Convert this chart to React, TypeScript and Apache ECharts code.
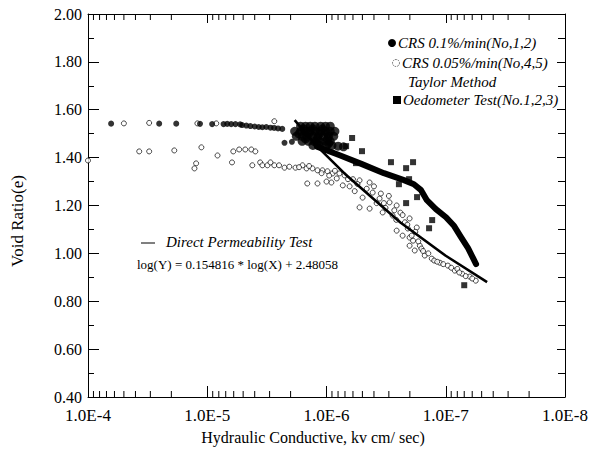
import React, { useEffect, useRef } from "react";
import * as echarts from "echarts";

// ---- axis ticks ----
const yMin = 0.4;
const yMax = 2.0;
const yInterval = 0.2;
const xMinK = 1e-8;
const xMaxK = 1e-4;
const minorMantissas = [2, 3, 4, 5, 6, 7, 8, 9];
const minorDecades = [-5, -6, -7, -8];

// ---- CRS 0.1%/min (No.1,2) : filled circles [k (cm/sec), e] ----
const crs01Points: [number, number][] = [
  [6.4e-5, 1.542], [2.53e-5, 1.542], [1.82e-5, 1.542], [1.15e-5, 1.541], [9.1e-6, 1.54],
  [7.3e-6, 1.54], [6.8e-6, 1.541], [6.3e-6, 1.54], [5.8e-6, 1.54], [5.3e-6, 1.539],
  [5.1e-6, 1.536], [4.7e-6, 1.534], [4.35e-6, 1.532], [4.0e-6, 1.53], [3.7e-6, 1.528],
  [3.45e-6, 1.527], [3.2e-6, 1.528], [2.95e-6, 1.525], [2.75e-6, 1.524], [2.55e-6, 1.522],
  [2.35e-6, 1.52], [2.25e-6, 1.462], [1.95e-6, 1.466],
];
const crs01Cluster: [number, number][] = [
  [1.65e-6, 1.531], [1.5e-6, 1.531], [1.37e-6, 1.531], [1.25e-6, 1.531], [1.12e-6, 1.531], [1.02e-6, 1.531], [9.3e-7, 1.531],
  [1.85e-6, 1.51], [1.65e-6, 1.51], [1.5e-6, 1.51], [1.37e-6, 1.51], [1.25e-6, 1.51], [1.12e-6, 1.51], [1.02e-6, 1.51], [9.3e-7, 1.51], [8.5e-7, 1.51],
  [1.79e-6, 1.489], [1.6e-6, 1.489], [1.45e-6, 1.489], [1.3e-6, 1.489], [1.18e-6, 1.489], [1.06e-6, 1.489], [9.6e-7, 1.489], [8.7e-7, 1.489],
  [1.6e-6, 1.468], [1.42e-6, 1.468], [1.27e-6, 1.468], [1.14e-6, 1.468], [1.02e-6, 1.468], [9.3e-7, 1.468],
  [1.3e-6, 1.451], [1.15e-6, 1.451], [1.0e-6, 1.451], [9.0e-7, 1.451], [8.0e-7, 1.448], [7.2e-7, 1.445],
  [1.55e-6, 1.52], [1.3e-6, 1.52], [1.08e-6, 1.52], [1.7e-6, 1.499], [1.4e-6, 1.499], [1.15e-6, 1.499],
  [9.8e-7, 1.499], [1.5e-6, 1.478], [1.2e-6, 1.478], [9.8e-7, 1.478], [1.2e-6, 1.459], [9.6e-7, 1.459],
];
// dense CRS 0.1% trace (drawn as a thick curve)
const crs01Trace: [number, number][] = [
  [1.2e-6, 1.446], [7.85e-7, 1.411], [5.04e-7, 1.373], [3.3e-7, 1.335], [2.24e-7, 1.306],
  [1.85e-7, 1.289], [1.61e-7, 1.264], [1.44e-7, 1.222], [1.21e-7, 1.185], [9.95e-8, 1.151],
  [8.5e-8, 1.114], [7.45e-8, 1.068], [6.5e-8, 1.022], [5.9e-8, 0.98], [5.57e-8, 0.955],
];

// ---- CRS 0.05%/min (No.4,5) : open circles ----
const crs005Points: [number, number][] = [
  [1.0e-4, 1.388],
  [5.0e-5, 1.543], [3.07e-5, 1.545], [1.21e-5, 1.543], [8.4e-6, 1.543], [2.74e-6, 1.552],
  [3.72e-5, 1.426], [3.07e-5, 1.426], [1.89e-5, 1.43], [1.12e-5, 1.443], [8.2e-6, 1.409],
  [6.05e-6, 1.426], [5.4e-6, 1.434], [4.8e-6, 1.434], [4.27e-6, 1.434], [3.95e-6, 1.426],
  [1.24e-5, 1.376], [1.28e-5, 1.355], [6.2e-6, 1.38], [4.19e-6, 1.368],
  [3.6e-6, 1.38], [3.45e-6, 1.368], [3.13e-6, 1.368], [2.95e-6, 1.38], [2.74e-6, 1.368],
  [2.5e-6, 1.368], [2.25e-6, 1.358], [2.05e-6, 1.362], [1.82e-6, 1.358], [1.59e-6, 1.368],
  [1.47e-6, 1.355], [1.31e-6, 1.355], [1.19e-6, 1.347], [1.08e-6, 1.347], [9.8e-7, 1.343],
  [8.9e-7, 1.334], [7.8e-7, 1.334], [7.06e-7, 1.326],
  [1.45e-6, 1.292], [1.19e-6, 1.292], [9.1e-7, 1.296],
  [8.2e-7, 1.313], [7.3e-7, 1.284], [5.28e-7, 1.305], [4.35e-7, 1.296], [4.98e-7, 1.233],
  [4.1e-7, 1.254], [3.59e-7, 1.229], [2.96e-7, 1.213], [2.58e-7, 1.2], [5.28e-7, 1.192],
  [4.35e-7, 1.187], [3.38e-7, 1.171], [2.79e-7, 1.158], [2.01e-7, 1.146], [1.75e-7, 1.108],
  [2.58e-7, 1.095], [2.3e-7, 1.074], [2.01e-7, 1.066],
  [2.08e-7, 1.104], [1.93e-7, 1.074], [2.01e-7, 1.032], [1.82e-7, 1.012], [1.5e-7, 0.991],
  [1.31e-7, 0.978], [1.12e-7, 0.961], [9.6e-8, 0.949], [8.4e-8, 0.928], [7.3e-8, 0.915],
  [6.3e-8, 0.903], [5.6e-8, 0.886], [1.88e-7, 1.053], [1.65e-7, 1.032],
  [1.0e-6, 1.3], [6.4e-7, 1.28], [5.8e-7, 1.26], [6.0e-7, 1.31], [4.6e-7, 1.27],
  [3.8e-7, 1.21], [3.2e-7, 1.19], [3.0e-7, 1.24], [2.4e-7, 1.17], [2.2e-7, 1.13],
  [2.6e-7, 1.14], [1.6e-7, 1.02], [1.4e-7, 1.0], [1.05e-7, 0.955], [8.0e-8, 0.935],
  [6.8e-8, 0.905], [1.25e-7, 0.97],
  [1.7e-6, 1.36], [1.4e-6, 1.365], [1.1e-6, 1.335], [9.5e-7, 1.325], [8.5e-7, 1.345],
  [6.6e-7, 1.31], [5.5e-7, 1.29], [4.0e-7, 1.28], [3.5e-7, 1.25], [3.3e-7, 1.21],
  [2.7e-7, 1.18], [2.3e-7, 1.16], [2.1e-7, 1.12], [1.8e-7, 1.09], [1.7e-7, 1.05],
  [1.55e-7, 1.01], [1.18e-7, 0.965], [9.0e-8, 0.94], [7.7e-8, 0.92], [6.0e-8, 0.895],
];

// ---- Taylor Method, Oedometer Test (No.1,2,3) : filled squares ----
const oedometerPoints: [number, number][] = [
  [6.1e-7, 1.482], [6.85e-7, 1.448], [5.04e-7, 1.427], [5.66e-7, 1.377], [2.88e-7, 1.381],
  [2.15e-7, 1.356], [1.88e-7, 1.381], [2.03e-7, 1.31], [2.47e-7, 1.289], [1.74e-7, 1.235],
  [2.15e-7, 1.21], [1.3e-7, 1.139], [1.38e-7, 1.105], [7.0e-8, 0.867],
];

// ---- Direct Permeability Test regression line ----
const directLine: [number, number][] = [
  [1.85e-6, 1.557], [1.21e-6, 1.449], [6.8e-7, 1.326], [2.4e-7, 1.129], [1.0e-7, 0.99], [4.5e-8, 0.88],
];

const FONT = "Liberation Serif";

export default function App() {
  const ref = useRef<HTMLDivElement>(null);
  useEffect(() => {
    if (!ref.current) return;
    const chart = echarts.init(ref.current, null, { renderer: "svg" });
    const minorTicks: number[][] = [];
    minorDecades.forEach((d) =>
      minorMantissas.forEach((m) => minorTicks.push([m * Math.pow(10, d), yMin]))
    );
    const axisLineStyle = { color: "#000", width: 1 };
    const txt = (text: string, x: number, y: number, size: number, italic: boolean, align = "left") => ({
      type: "text",
      x,
      y,
      style: {
        text,
        fontFamily: FONT,
        fontStyle: italic ? "italic" : "normal",
        fontSize: size,
        fill: "#000",
        textAlign: align,
        textVerticalAlign: "middle",
        align,
        verticalAlign: "middle",
      },
    });
    const option: any = {
      animation: false,
      backgroundColor: "#fff",
      textStyle: { fontFamily: FONT },
      grid: { left: 88, right: 26, top: 14, bottom: 64 },
      xAxis: [
        {
          type: "log",
          logBase: 10,
          min: xMinK,
          max: xMaxK,
          inverse: true,
          position: "bottom",
          axisLine: { show: true, lineStyle: axisLineStyle },
          axisTick: { show: true, inside: true, length: 11, lineStyle: axisLineStyle },
          splitLine: { show: false },
          axisLabel: {
            color: "#000",
            fontFamily: FONT,
            fontSize: 17,
            margin: 10,
            formatter: (v: number) => "1.0E" + Math.round(Math.log10(v)),
          },
        },
        {
          type: "log",
          logBase: 10,
          min: xMinK,
          max: xMaxK,
          inverse: true,
          position: "top",
          axisLine: { show: true, lineStyle: axisLineStyle },
          axisTick: { show: true, inside: true, length: 9, lineStyle: axisLineStyle },
          splitLine: { show: false },
          axisLabel: { show: false },
        },
      ],
      yAxis: [
        {
          type: "value",
          min: yMin,
          max: yMax,
          interval: yInterval,
          position: "left",
          axisLine: { show: true, lineStyle: axisLineStyle },
          axisTick: { show: true, inside: true, length: 11, lineStyle: axisLineStyle },
          minorTick: { show: true, splitNumber: 2, length: 6, lineStyle: axisLineStyle },
          splitLine: { show: false },
          axisLabel: {
            color: "#000",
            fontFamily: FONT,
            fontSize: 16,
            margin: 6,
            formatter: (v: number) => v.toFixed(2),
          },
        },
        {
          type: "value",
          min: yMin,
          max: yMax,
          interval: yInterval,
          position: "right",
          axisLine: { show: true, lineStyle: axisLineStyle },
          axisTick: { show: true, inside: true, length: 8, lineStyle: axisLineStyle },
          minorTick: { show: true, splitNumber: 2, length: 7, lineStyle: axisLineStyle },
          splitLine: { show: false },
          axisLabel: { show: false },
        },
      ],
      series: [
        {
          type: "custom",
          name: "minorTicks",
          silent: true,
          clip: false,
          z: 10,
          data: minorTicks,
          renderItem: (params: any, api: any) => {
            const v = api.value(0);
            const b = api.coord([v, yMin]);
            const t = api.coord([v, yMax]);
            return {
              type: "group",
              children: [
                { type: "line", shape: { x1: b[0], y1: b[1], x2: b[0], y2: b[1] - 6 }, style: { stroke: "#000", lineWidth: 1 } },
                { type: "line", shape: { x1: t[0], y1: t[1], x2: t[0], y2: t[1] + 6 }, style: { stroke: "#000", lineWidth: 1 } },
              ],
            };
          },
        },
        {
          type: "scatter",
          name: "CRS 0.05%/min(No,4,5)",
          data: crs005Points,
          symbol: "circle",
          symbolSize: 5,
          itemStyle: { color: "#fff", borderColor: "#000", borderWidth: 0.9 },
          z: 2,
        },
        {
          type: "line",
          name: "Direct Permeability Test",
          data: directLine,
          showSymbol: false,
          symbol: "none",
          lineStyle: { color: "#000", width: 2.6 },
          z: 3,
        },
        {
          type: "line",
          name: "CRS 0.1% trace",
          data: crs01Trace,
          showSymbol: false,
          symbol: "none",
          lineStyle: { color: "#000", width: 6, cap: "round", join: "round" },
          z: 4,
        },
        {
          type: "scatter",
          name: "CRS 0.1%/min(No,1,2)",
          data: crs01Points,
          symbol: "circle",
          symbolSize: 6,
          itemStyle: { color: "#000" },
          z: 4,
        },
        {
          type: "scatter",
          name: "CRS 0.1% cluster",
          data: crs01Cluster,
          symbol: "circle",
          symbolSize: 9,
          itemStyle: { color: "#000" },
          z: 4,
        },
        {
          type: "scatter",
          name: "Oedometer Test(No.1,2,3)",
          data: oedometerPoints,
          symbol: "rect",
          symbolSize: 6,
          itemStyle: { color: "#000" },
          z: 5,
        },
      ],
      graphic: [
        // legend
        { type: "circle", shape: { cx: 392, cy: 43, r: 4 }, style: { fill: "#000" } },
        txt("CRS 0.1%/min(No,1,2)", 398, 43, 15, true),
        { type: "circle", shape: { cx: 396, cy: 63, r: 3.5 }, style: { fill: "#fff", stroke: "#666", lineWidth: 1, lineDash: [1.5, 1] } },
        txt("CRS 0.05%/min(No,4,5)", 402, 63, 15, true),
        txt("Taylor Method", 408, 82, 15, true),
        { type: "rect", shape: { x: 393, y: 96, width: 8, height: 8 }, style: { fill: "#000" } },
        txt("Oedometer Test(No.1,2,3)", 403, 100, 15, true),
        // regression annotation
        { type: "line", shape: { x1: 141, y1: 243, x2: 155, y2: 243 }, style: { stroke: "#000", lineWidth: 1 } },
        txt("Direct Permeability Test", 166, 242, 15, true),
        txt("log(Y) = 0.154816 * log(X) + 2.48058", 137, 264, 13, false),
        // axis titles
        txt("Hydraulic Conductive, kv cm/ sec)", 313, 437, 16, false, "center"),
        {
          ...txt("Void Ratio(e)", 17, 221, 17, false, "center"),
          rotation: Math.PI / 2,
        },
      ],
    };
    chart.setOption(option);
    return () => chart.dispose();
  }, []);
  return (
    <div
      ref={ref}
      style={{ position: "absolute", left: 0, top: 0, width: 591, height: 461, background: "#fff" }}
    />
  );
}
